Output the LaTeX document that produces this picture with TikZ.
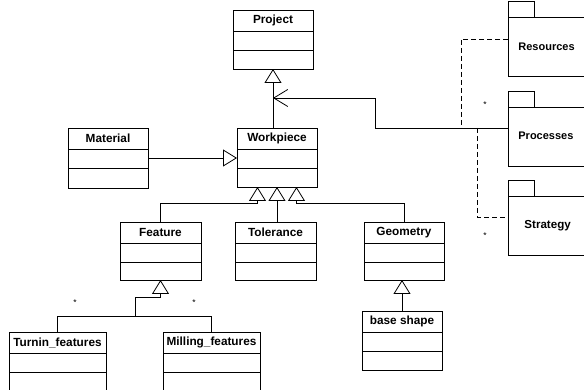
\documentclass[tikz,border=0pt]{standalone}
\usepackage{fontspec}
\setmainfont{Liberation Sans}
\usetikzlibrary{arrows.meta,calc}
\newcommand\umlclass[6]{%
  \node[cls, minimum width=#4pt, minimum height=#5pt] (#1) at (#2,#3) {};
  \draw ($(#1.north west)+(0,21.5)$) -- ($(#1.north east)+(0,21.5)$);
  \draw ($(#1.north west)+(0,40.5)$) -- ($(#1.north east)+(0,40.5)$);
  \node[lbl] (#1-l) at ($(#1.north)+(0,10.75)$) {#6};
}
\newcommand\umlpkg[2]{%
  \node[cls, minimum width=26pt, minimum height=16pt] (#1-tab) at (508,#2) {};
  \node[cls, minimum width=82pt, minimum height=59pt] (#1) at (508,#2+16) {};
}
\begin{document}
\begin{tikzpicture}[x=1pt,y=-1pt,line width=0.8pt,
  cls/.style={draw, inner sep=0pt, outer sep=0pt, anchor=north west},
  lbl/.style={font=\bfseries\fontsize{11.8}{13}\selectfont, inner sep=0pt},
  plbl/.style={font=\bfseries\fontsize{11}{13}\selectfont, inner sep=0pt, anchor=west},
  gen/.style={-{Triangle[open,length=14pt,width=17pt]}},
  nav/.style={-{Straight Barb[length=14pt,width=17pt]}},
  dep/.style={dash pattern=on 5pt off 3pt},
  star/.style={font=\fontsize{8.5}{9}\selectfont, inner sep=0pt}]
\useasboundingbox (0,0) rectangle (584,390);

% classes
\umlclass{proj}{233}{10}{80}{59}{Project}
\umlclass{wp}{237}{128}{80}{59}{Workpiece}
\umlclass{mat}{68}{128}{80}{60}{Material}
\umlclass{feat}{120}{222}{81}{58}{Feature}
\umlclass{tol}{235}{222}{81}{58}{Tolerance}
\umlclass{geo}{364}{222}{80}{58}{Geometry}
\umlclass{base}{362}{311}{80}{59}{base shape}
\umlclass{turn}{9}{332}{97}{62}{Turnin\_features}
\umlclass{mill}{163}{332}{97}{62}{Milling\_features}

% packages
\umlpkg{res}{1}
\umlpkg{proc}{91}
\umlpkg{strat}{180}
\node[plbl] (res-l) at (518,47) {Resources};
\node[plbl] (proc-l) at (518,136) {Processes};
\node[plbl, font=\bfseries\fontsize{11.6}{13}\selectfont] (strat-l) at (524,226) {Strategy};

% helper coordinates
\coordinate (y98) at (0,98);
\coordinate (y128) at (0,128);
\coordinate (y39) at (0,39);
\coordinate (y217) at (0,217);
\coordinate (pa) at (proj.south |- y98);
\coordinate (k2) at (375,98);
\coordinate (d1) at (461,128);
\coordinate (d2) at (477,128);
\coordinate (g1) at ($(wp.south)+(-19.5,0)$);
\coordinate (g2) at (wp.south);
\coordinate (g3) at ($(wp.south)+(19.5,0)$);
\coordinate (fj) at (135,316);

% generalizations
\draw[gen] (wp.north -| proj.south) -- (proj.south);
\draw[gen] (mat.east) -- (mat.east -| wp.west);
\draw[gen] (feat.north) |- ($(g1)+(0,16)$) -- (g1);
\draw[gen] (tol.north -| g2) -- (g2);
\draw[gen] (geo.north) |- ($(g3)+(0,16)$) -- (g3);
\draw (turn.north) |- (mill.north |- fj) -- (mill.north);
\draw[gen] (fj) |- ($(feat.south)+(0,17)$) -- (feat.south);
\draw[gen] (base.north) -- (base.north |- geo.south);

% association to Processes
\draw[nav] (proc.west |- y128) -| (k2) -- (pa);

% dependencies
\draw[dep] (res.west |- y39) -| (d1);
\draw[dep] (d2) |- (strat.west |- y217);

% multiplicities
\node[star] (s1) at (75,303) {*};
\node[star] (s2) at (194,303) {*};
\node[star] (s3) at (485,105) {*};
\node[star] (s4) at (485,236) {*};
\end{tikzpicture}
\end{document}
